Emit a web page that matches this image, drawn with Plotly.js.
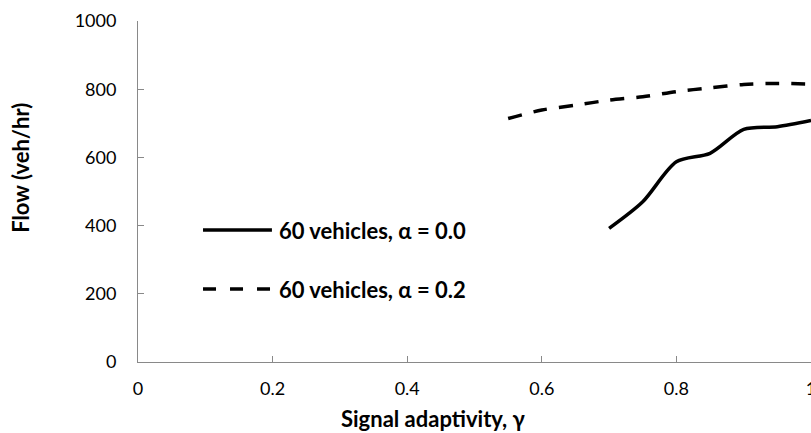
<!DOCTYPE html>
<html>
<head>
<meta charset="utf-8">
<script src="https://cdn.plot.ly/plotly-3.0.1.min.js"></script>
<style>html,body{margin:0;padding:0;background:#fff;}#chart{width:811px;height:433px;}</style>
</head>
<body>
<div id="chart"></div>
<script>
const gammaA0 = [0.70, 0.75, 0.80, 0.85, 0.90, 0.95, 1.00];
const flowA0  = [392, 470, 587, 612, 682, 690, 708];
const gammaA2 = [0.55, 0.60, 0.65, 0.70, 0.75, 0.80, 0.85, 0.90, 0.95, 1.00];
const flowA2  = [714, 739, 753, 768, 778, 793, 804, 814, 817, 815];
const seriesNames = ['60 vehicles, α = 0.0', '60 vehicles, α = 0.2'];
const xTicks = [0, 0.2, 0.4, 0.6, 0.8, 1];
const xTickText = ['0', '0.2', '0.4', '0.6', '0.8', '1'];
const yTicks = [0, 200, 400, 600, 800, 1000];
const xTitle = 'Signal adaptivity, γ';
const yTitle = 'Flow (veh/hr)';

const FONT = 'Lato, "Open Sans", sans-serif';
const AXIS_GREY = '#898989';
const DASH = '14px,12px';
const LW = 3.5;

const traces = [
  {x: gammaA0, y: flowA0, name: seriesNames[0], mode: 'lines', showlegend: false,
   line: {color: '#000', width: LW, shape: 'spline', smoothing: 0.8}},
  {x: gammaA2, y: flowA2, name: seriesNames[1], mode: 'lines', showlegend: false,
   line: {color: '#000', width: LW, shape: 'spline', smoothing: 0.8, dash: DASH}}
];

// Manual legend (swatch + label) placed inside the plot area
const legendRows = [
  {y: 0.387, dash: 'solid'},
  {y: 0.214, dash: '13px,14px'}
];
const shapes = legendRows.map(r => ({
  type: 'line', xref: 'paper', yref: 'paper', x0: 0.0966, x1: 0.199, y0: r.y, y1: r.y,
  line: {color: '#000', width: LW, dash: r.dash}
}));
const annotations = legendRows.map((r, i) => ({
  xref: 'paper', yref: 'paper', x: 0.207, y: r.y, xanchor: 'left', yanchor: 'middle',
  showarrow: false, text: seriesNames[i],
  font: {family: FONT, size: 22, weight: 'bold', color: '#000'}
}));
annotations.push({
  xref: 'paper', yref: 'paper', x: 0.439, y: -0.165, xanchor: 'center', yanchor: 'middle',
  showarrow: false, text: xTitle, font: {family: FONT, size: 22, weight: 'bold', color: '#000'}
});
annotations.push({
  xref: 'paper', yref: 'paper', x: -0.174, y: 0.569, xanchor: 'center', yanchor: 'middle',
  showarrow: false, textangle: -90, text: yTitle, font: {family: FONT, size: 22, weight: 'bold', color: '#000'}
});

const layout = {
  width: 811, height: 433,
  margin: {l: 138, r: 0, t: 21, b: 71},
  paper_bgcolor: '#fff', plot_bgcolor: '#fff',
  font: {family: FONT, size: 18, color: '#000'},
  showlegend: false,
  shapes: shapes,
  annotations: annotations,
  xaxis: {range: [0, 1], tickvals: xTicks, ticktext: xTickText, showgrid: false, zeroline: false,
          showline: true, linecolor: AXIS_GREY, linewidth: 1, ticks: 'inside', ticklen: 6, tickcolor: AXIS_GREY,
          ticklabelstandoff: 10, ticklabeloverflow: 'allow', tickfont: {family: FONT, size: 18, color: '#000'}},
  yaxis: {range: [0, 1000], tickvals: yTicks, showgrid: false, zeroline: false,
          showline: true, linecolor: AXIS_GREY, linewidth: 1, ticks: 'inside', ticklen: 6, tickcolor: AXIS_GREY,
          ticklabelstandoff: 17, tickfont: {family: FONT, size: 18, color: '#000'}}
};

Plotly.newPlot('chart', traces, layout, {displayModeBar: false, staticPlot: true});
</script>
</body>
</html>
